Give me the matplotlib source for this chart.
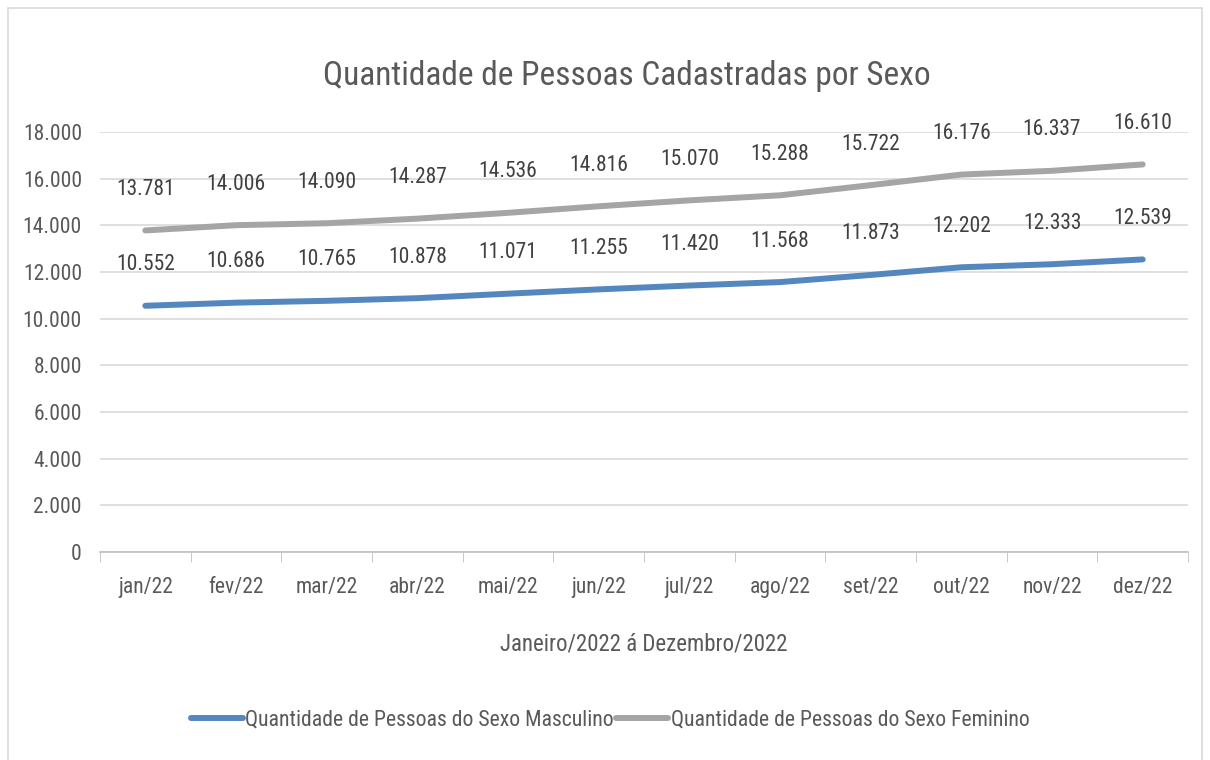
import matplotlib
matplotlib.use("Agg")
import matplotlib.pyplot as plt
from matplotlib.patches import Rectangle

months = ["jan/22", "fev/22", "mar/22", "abr/22", "mai/22", "jun/22",
          "jul/22", "ago/22", "set/22", "out/22", "nov/22", "dez/22"]
masculino = [10552, 10686, 10765, 10878, 11071, 11255,
             11420, 11568, 11873, 12202, 12333, 12539]
feminino = [13781, 14006, 14090, 14287, 14536, 14816,
            15070, 15288, 15722, 16176, 16337, 16610]
yticks = list(range(0, 18001, 2000))

TEXT = "#404040"
AXIS_TEXT = "#595959"
plt.rcParams["font.family"] = ["Liberation Sans Narrow", "Roboto Condensed",
                               "Open Sans Condensed", "Lato", "DejaVu Sans"]


def br(v):
    # thousands separator with a dot, pt-BR style
    return f"{v:,}".replace(",", ".")


fig = plt.figure(figsize=(12.10, 7.60), dpi=100)
fig.patches.append(Rectangle((8 / 1210, -0.01), 1194 / 1210, 1 - 8 / 760 + 0.01,
                             transform=fig.transFigure, fill=False,
                             edgecolor="#d9d9d9", lw=1.2))
ax = fig.add_axes([100 / 1210, 1 - 552 / 760, 1088 / 1210, 420 / 760])

x = range(len(months))
ax.plot(x, masculino, color="#5587bf", lw=4.3, solid_capstyle="round",
        label="Quantidade de Pessoas do Sexo Masculino", zorder=3)
ax.plot(x, feminino, color="#a5a5a5", lw=4.3, solid_capstyle="round",
        label="Quantidade de Pessoas do Sexo Feminino", zorder=3)

for series in (masculino, feminino):
    for i, v in enumerate(series):
        ax.annotate(br(v), (i, v), xytext=(0, 29.5), textcoords="offset points",
                    ha="center", va="center", fontsize=15.5, color=TEXT,
                    annotation_clip=False)

ax.set_xlim(-0.5, len(months) - 0.5)
ax.set_ylim(0, 18000)
ax.set_yticks(yticks)
ax.set_yticklabels([br(v) for v in yticks], fontsize=15.5, color=AXIS_TEXT)
ax.set_xticks(list(x))
ax.set_xticklabels(months, fontsize=15.5, color=AXIS_TEXT)
ax.set_xticks([i - 0.5 for i in range(len(months) + 1)], minor=True)
ax.tick_params(axis="x", which="major", length=0, pad=18)
ax.tick_params(axis="x", which="minor", length=7, color="#bfbfbf", direction="out")
ax.tick_params(axis="y", length=0, pad=13)
ax.grid(axis="y", color="#d9d9d9", lw=1.2)
ax.set_axisbelow(True)
for side in ("top", "right", "left"):
    ax.spines[side].set_visible(False)
ax.spines["bottom"].set_color("#bfbfbf")
ax.spines["bottom"].set_linewidth(1.2)

ax.set_xlabel("Janeiro/2022 á Dezembro/2022", fontsize=16.5, color=AXIS_TEXT,
              labelpad=25)
fig.text(627 / 1210, 1 - 76 / 760, "Quantidade de Pessoas Cadastradas por Sexo",
         ha="center", va="center", fontsize=24, color=AXIS_TEXT)
fig.legend(loc="center", bbox_to_anchor=(610 / 1210, 1 - 720 / 760), ncol=2,
           frameon=False, fontsize=15.7, handlelength=2.4, columnspacing=0.1,
           handletextpad=0.1, labelcolor=AXIS_TEXT)

fig.savefig("out.png", dpi=100)
